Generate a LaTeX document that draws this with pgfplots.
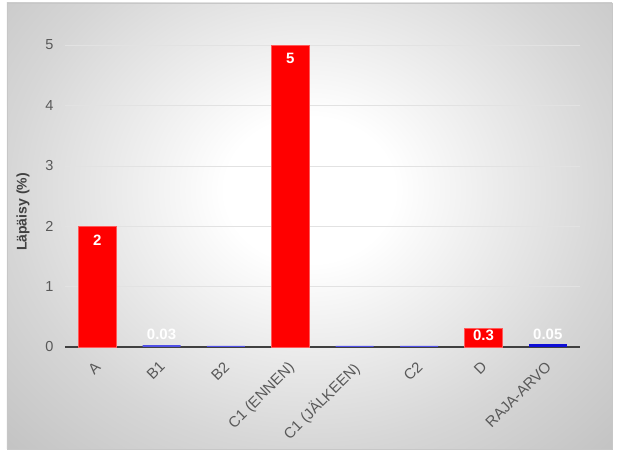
\documentclass[border=0pt]{standalone}
\usepackage{pgfplots}
\pgfplotsset{compat=1.18}
\usepackage{fontspec}
\setmainfont{Liberation Sans}
\definecolor{tickgray}{HTML}{595959}
\definecolor{labgray}{HTML}{404040}
\definecolor{barred}{HTML}{FF0000}
\definecolor{baredge}{HTML}{FF5A5A}
\definecolor{smallblue}{HTML}{4F4FE6}
\definecolor{limblue}{HTML}{0E0ED6}
\definecolor{gridc}{HTML}{E2E2E2}
\definecolor{bgA}{HTML}{D6D6D6}
\definecolor{bgB}{HTML}{C2C2C2}
\pgfdeclareradialshading{bgshade}{\pgfpoint{0bp}{0bp}}{%
  color(0bp)=(white); color(7bp)=(white); color(25bp)=(bgA); color(36bp)=(bgB); color(50bp)=(bgB)}
\begin{document}
\begin{tikzpicture}[x=1pt,y=1pt]
\useasboundingbox (-65,-105) rectangle (554,347);
\begin{scope}
\clip (-58,-102) rectangle (547,344);
\shade[shading=bgshade] (-58,-102) rectangle (547,416);
\end{scope}
\draw[draw=black!22, line width=0.8pt] (-58,-102) rectangle (547,344);
\begin{axis}[
  at={(0,0)}, anchor=south west,
  scale only axis,
  width=515pt, height=302pt,
  xmin=-0.5, xmax=7.5,
  ymin=0, ymax=5,
  axis line style={draw=none},
  axis x line*=bottom,
  axis y line*=left,
  clip=false,
  xtick={0,1,2,3,4,5,6,7},
  xticklabels={A,B1,B2,C1 (ENNEN),C1 (JÄLKEEN),C2,D,RAJA-ARVO},
  xticklabel style={xshift=-3pt, yshift=-12pt, rotate=45, anchor=north east, font=\fontsize{15}{17}\selectfont, text=tickgray, inner sep=1pt},
  ytick={0,1,2,3,4,5},
  /pgf/number format/assume math mode=true,
  yticklabel style={font=\fontsize{14.5}{17}\selectfont, text=tickgray, xshift=-8pt},
  major tick length=0pt,
  ymajorgrids,
  grid style={gridc, line width=0.6pt},
  ylabel={\textbf{Läpäisy (\%)}},
  ylabel style={font=\fontsize{14}{16}\selectfont, text=labgray, at={(axis description cs:-0.0816,0.447)}, anchor=center},
  ybar, bar width=38pt, bar shift=0pt,
]
\draw[labgray, line width=1.4pt] (axis cs:-0.5,0) -- (axis cs:7.5,0);
\addplot[fill=barred, draw=baredge, line width=0.8pt] coordinates {(0,2) (3,5) (6,0.3)};
\addplot[fill=smallblue, draw=none] coordinates {(1,0.03) (2,0.02) (4,0.02) (5,0.02)};
\addplot[fill=limblue, draw=none] coordinates {(7,0.05)};
\addplot[draw=none, ybar=0pt, fill=none, nodes near coords, point meta=explicit symbolic,
  every node near coord/.append style={anchor=center, text=white, font=\bfseries\fontsize{15}{17}\selectfont}]
  coordinates {(0,1.77)[2] (1,0.215)[0.03] (3,4.78)[5] (6,0.2)[0.3] (7,0.215)[0.05]};
\end{axis}
\end{tikzpicture}
\end{document}
